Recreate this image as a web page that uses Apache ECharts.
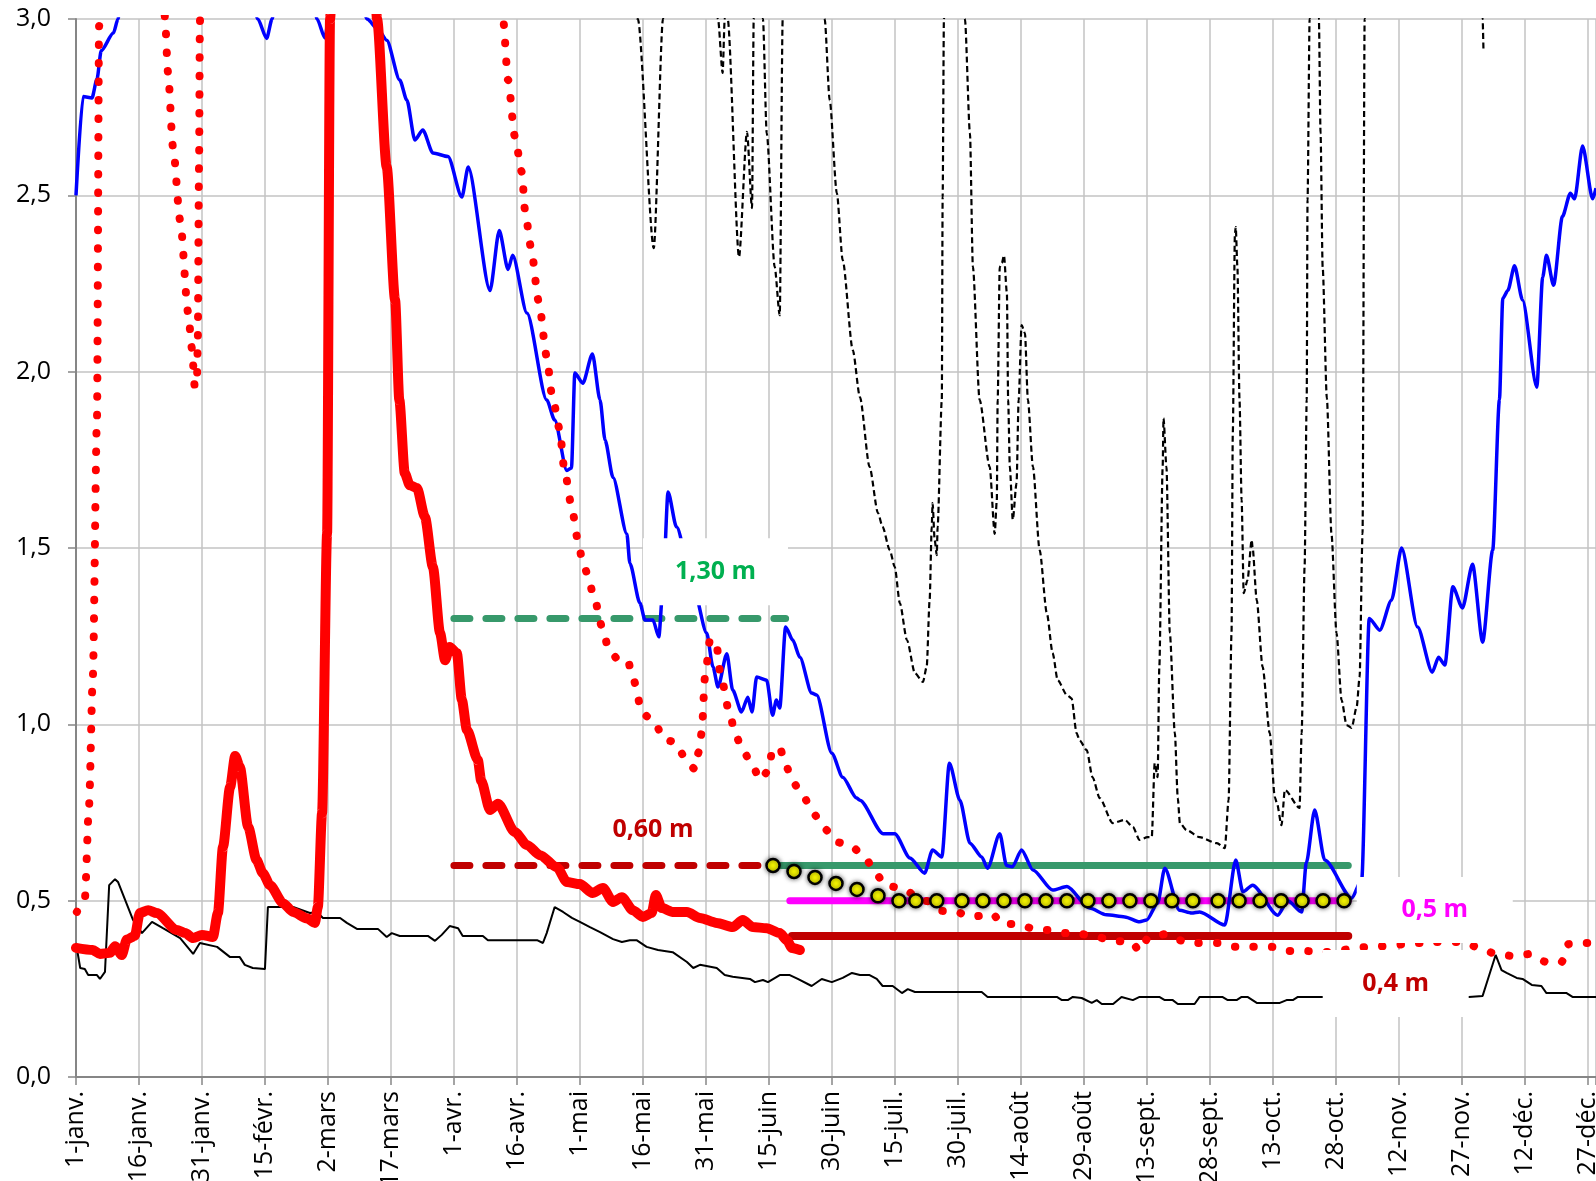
<!DOCTYPE html>
<html>
<head>
<meta charset="utf-8">
<script src="https://cdn.jsdelivr.net/npm/echarts@6/dist/echarts.min.js"></script>
<style>
html,body{margin:0;padding:0;background:#fff;}
#chart{width:1596px;height:1181px;}
</style>
</head>
<body>
<div id="chart"></div>
<script>
// ---- axis tick labels ----
const tickLabels = ['1-janv.','16-janv.','31-janv.','15-févr.','2-mars','17-mars','1-avr.','16-avr.','1-mai','16-mai','31-mai','15-juin','30-juin','15-juil.','30-juil.','14-août','29-août','13-sept.','28-sept.','13-oct.','28-oct.','12-nov.','27-nov.','12-déc.','27-déc.'];
const yTickLabels = ['0,0','0,5','1,0','1,5','2,0','2,5','3,0'];

// ---- series: [day of year (0 = 1 Jan), value in m] ----
const blueLine = [[0,2.50],[1.7,2.78],[3.8,2.776],[5,2.83],[6,2.91],[8.9,2.96],[10,3.0],[12,3.3],[40,3.3],[43.3,3.0],[45.4,2.945],[46.7,3.0],[49,3.3],[55,3.3],[57.4,3.0],[59.3,2.946],[61,3.1],[66,3.2],[69.3,3.0],[72,2.97],[74,2.94],[77.1,2.827],[78.8,2.77],[80.7,2.657],[82.6,2.685],[85,2.62],[88.6,2.61],[91.9,2.495],[93.4,2.58],[98.6,2.23],[100.8,2.40],[102.9,2.29],[104,2.33],[107.4,2.166],[112.1,1.92],[114,1.863],[116.9,1.72],[118,1.727],[118.8,1.996],[120.7,1.967],[123,2.05],[124.8,1.92],[126,1.806],[127.9,1.70],[131.2,1.54],[131.9,1.457],[134.3,1.344],[135.5,1.296],[137.4,1.296],[138.8,1.248],[139.8,1.39],[141,1.659],[143,1.56],[147,1.39],[150.2,1.259],[151.7,1.163],[152.9,1.106],[155,1.20],[156.4,1.097],[158.5,1.035],[160,1.077],[161,1.035],[162.1,1.134],[164.5,1.125],[165.9,1.026],[166.8,1.069],[167.6,1.046],[169,1.276],[170.7,1.239],[172.4,1.19],[175.2,1.089],[176.4,1.083],[180,0.918],[182.6,0.85],[185.9,0.791],[186.7,0.785],[192.2,0.69],[195,0.69],[198.6,0.621],[202.1,0.578],[204,0.644],[206.2,0.624],[208,0.89],[210.5,0.785],[212.9,0.663],[215.7,0.624],[217.1,0.592],[220,0.69],[221.6,0.60],[223,0.596],[225.2,0.644],[227.9,0.587],[232.6,0.53],[236,0.54],[241.4,0.479],[245.4,0.46],[249.8,0.454],[253.3,0.44],[255,0.445],[257.6,0.493],[259.3,0.592],[262.8,0.473],[265.7,0.465],[267.6,0.468],[273.6,0.431],[276.2,0.615],[277.9,0.525],[280.2,0.544],[286.2,0.459],[288.6,0.50],[291.9,0.468],[293,0.607],[295,0.757],[297.4,0.615],[303.8,0.507],[306.2,0.559],[308,1.30],[310.5,1.267],[313.3,1.352],[315.7,1.50],[319.5,1.276],[323,1.148],[324.5,1.19],[326,1.168],[327.9,1.39],[330.2,1.33],[332.6,1.454],[335,1.233],[337.4,1.494],[339,1.92],[339.8,2.208],[341,2.23],[342.6,2.30],[344.5,2.203],[347.9,1.956],[349.3,2.268],[350.2,2.33],[351.9,2.245],[354,2.44],[355.9,2.506],[356.9,2.49],[358.8,2.64],[361.2,2.49],[362,2.52]];

const redThick = [[0,0.366],[4,0.36],[5.7,0.349],[8.1,0.352],[9.3,0.371],[10.9,0.346],[12.1,0.39],[14,0.40],[15.2,0.465],[17.2,0.473],[19.2,0.465],[24,0.417],[26,0.408],[27.9,0.394],[30,0.403],[32.6,0.397],[33.8,0.465],[35,0.652],[36.7,0.822],[37.9,0.91],[39,0.88],[41,0.709],[43,0.615],[44.5,0.578],[46.2,0.544],[49.3,0.493],[51.7,0.468],[55,0.45],[56.9,0.437],[57.6,0.482],[58.6,0.748],[59.8,1.54],[60.5,3.0],[61.5,3.3],[70.5,3.3],[71.7,3.0],[74,2.58],[76,2.203],[77,1.92],[78.3,1.712],[79.5,1.678],[81.2,1.67],[83.1,1.588],[85,1.446],[86.7,1.259],[87.9,1.182],[89,1.219],[90.7,1.202],[91.9,1.069],[93.1,0.984],[95.7,0.899],[96.5,0.84],[98.6,0.757],[100.5,0.775],[104.5,0.695],[107.4,0.658],[110.5,0.629],[114.5,0.595],[116.9,0.553],[120,0.547],[123,0.522],[125.5,0.536],[127.9,0.496],[130,0.51],[132.6,0.473],[135,0.454],[137.1,0.465],[138.1,0.516],[139.5,0.479],[142.1,0.468],[145.5,0.468],[148.6,0.451],[152.6,0.437],[156.4,0.425],[158.8,0.445],[161.2,0.425],[164.5,0.422],[167.6,0.408],[169.3,0.388],[170.5,0.366],[172.4,0.36]];

const redDotted = [[0.2,0.468],[2.1,0.505],[3.1,0.77],[4,1.134],[5,1.87],[5.5,2.98],[5.8,3.3],[20.5,3.3],[21.2,3.0],[21.9,2.85],[23.1,2.637],[24.8,2.43],[26.7,2.169],[27.6,2.067],[28.3,1.956],[28.8,1.976],[29,2.081],[29.3,2.58],[29.5,2.98],[29.8,3.3],[101,3.3],[101.7,3.0],[102.9,2.827],[104.5,2.668],[106.2,2.566],[106.9,2.461],[108.3,2.356],[110.2,2.2],[112.1,2.044],[113.3,1.939],[115.2,1.837],[116.2,1.732],[117.9,1.627],[119.5,1.525],[120.5,1.471],[121.9,1.423],[123.1,1.372],[125.5,1.27],[126.7,1.219],[129,1.185],[131.4,1.182],[132.6,1.131],[135,1.029],[137.9,1.007],[139.8,0.958],[142.6,0.95],[145,0.907],[147.4,0.873],[148.3,0.921],[149,0.975],[149.8,1.134],[151,1.239],[152.4,1.236],[153.6,1.134],[155.7,1.029],[156.9,0.978],[158.6,0.93],[161,0.887],[162.9,0.842],[165.2,0.873],[165.7,0.924],[167.6,0.933],[169,0.885],[170.7,0.836],[173.3,0.794],[175.5,0.749],[178.1,0.706],[181.2,0.666],[184.5,0.655],[187.9,0.624],[190.2,0.581],[192.9,0.542],[196.7,0.536],[199.8,0.516],[202.6,0.499],[206.4,0.471],[209.8,0.468],[212.4,0.456],[214.5,0.456],[218.3,0.462],[220.5,0.434],[224.3,0.434],[227.6,0.422],[231.2,0.417],[235.5,0.408],[239.5,0.405],[243.1,0.397],[247.1,0.386],[251.4,0.383],[253.3,0.357],[255.5,0.397],[259.5,0.405],[263.6,0.386],[267.1,0.38],[271.9,0.38],[276,0.369],[280.2,0.369],[284.8,0.369],[288.8,0.357],[293.3,0.357],[296.9,0.354],[308.1,0.369],[320.7,0.38],[323.1,0.383],[330.2,0.383],[334.3,0.366],[338.1,0.349],[342.4,0.343],[346.4,0.349],[350.2,0.326],[353.8,0.326],[355.5,0.377],[358.8,0.38],[362,0.38]];

const blackSolid = [[0,0.38],[1,0.309],[2.1,0.306],[2.9,0.289],[5,0.289],[5.7,0.278],[6.9,0.298],[7.9,0.544],[9.3,0.561],[10,0.553],[13.6,0.445],[15.7,0.408],[18.1,0.44],[20.7,0.422],[24.8,0.394],[27.9,0.349],[29.5,0.38],[33.6,0.369],[36.7,0.34],[39,0.34],[40.2,0.318],[42.1,0.309],[45,0.306],[45.7,0.482],[51.7,0.482],[55.7,0.465],[57.4,0.468],[58.8,0.451],[62.9,0.451],[64.5,0.437],[66.9,0.42],[71.9,0.42],[74,0.397],[75.2,0.408],[77.1,0.40],[83.8,0.40],[85.5,0.386],[87.1,0.403],[89,0.428],[91,0.422],[92.1,0.40],[96.9,0.40],[98.1,0.388],[109.8,0.388],[111.2,0.38],[112.1,0.408],[114,0.482],[116,0.468],[118.1,0.451],[120,0.44],[122.4,0.425],[124.8,0.411],[127.9,0.391],[130,0.383],[131.9,0.388],[133.5,0.388],[135.9,0.369],[138.6,0.36],[142.1,0.354],[145.5,0.326],[147,0.309],[148.6,0.318],[152.6,0.309],[154.5,0.289],[156.4,0.284],[160.5,0.278],[161.7,0.269],[163.6,0.275],[164.8,0.269],[167.6,0.289],[170,0.289],[171.9,0.278],[175.2,0.258],[177.6,0.278],[180,0.269],[182.6,0.281],[184.8,0.295],[186.7,0.289],[189,0.289],[190.7,0.278],[192.1,0.258],[194.5,0.258],[196.7,0.238],[198.1,0.249],[199.8,0.241],[215.7,0.241],[217.1,0.227],[233.6,0.227],[234.8,0.218],[236.2,0.218],[237.4,0.227],[239.5,0.224],[241.9,0.21],[243.1,0.218],[244.3,0.207],[247,0.207],[249,0.227],[251.7,0.218],[253.3,0.227],[258,0.227],[259.3,0.218],[261.2,0.218],[262.4,0.207],[266.4,0.207],[267.6,0.227],[273,0.227],[274.3,0.218],[276.4,0.218],[277.6,0.227],[279,0.227],[281.2,0.21],[286.7,0.21],[288.3,0.218],[289.8,0.218],[291,0.227],[296.9,0.227],[331.7,0.227],[335,0.23],[336.2,0.275],[338.1,0.346],[339.5,0.303],[340.7,0.295],[343.1,0.281],[344.5,0.278],[346.7,0.261],[349,0.258],[350.2,0.238],[355,0.238],[356.4,0.227],[362,0.227]];

const blackDashed = [[128,3.4],[133.8,3.0],[137.6,2.35],[139.8,3.0],[141,3.4],[151,3.4],[152.9,3.0],[154,2.847],[154.5,3.0],[154.85,3.05],[155.2,3.0],[157.9,2.325],[159.8,2.68],[161,2.464],[161.4,3.0],[162.5,3.3],[163.6,3.0],[164.5,2.676],[166.4,2.297],[167.6,2.16],[168.3,3.0],[169,3.4],[177,3.4],[178.3,3.0],[179.5,2.77],[181.2,2.506],[182.6,2.316],[185,2.061],[186.7,1.928],[189,1.73],[191,1.599],[192.1,1.56],[193.8,1.494],[195,1.446],[196.2,1.344],[197.9,1.239],[199.8,1.145],[201.7,1.12],[202.6,1.163],[203.3,1.352],[203.8,1.56],[204,1.627],[204.5,1.523],[205,1.48],[205.2,1.56],[206.2,1.92],[206.4,2.495],[206.7,3.0],[207.5,3.4],[210.5,3.4],[211.7,3.0],[212.9,2.676],[213.6,2.297],[215.2,1.92],[217.6,1.73],[218.8,1.54],[219.3,1.636],[219.5,1.92],[220,2.297],[220.5,2.308],[221,2.33],[221.7,2.223],[222,1.92],[222.4,1.73],[223.1,1.58],[224,1.684],[224.5,1.92],[225.2,2.132],[226,2.109],[226.7,1.92],[227.9,1.73],[229.5,1.494],[231.2,1.316],[232.6,1.202],[233.8,1.125],[236,1.083],[237.1,1.074],[238.3,0.975],[239,0.955],[240.7,0.927],[242.1,0.85],[243.8,0.791],[246.9,0.72],[249.8,0.729],[251.7,0.709],[253.3,0.672],[255.2,0.68],[256.2,0.68],[256.9,0.89],[257.6,0.85],[258,1.163],[258.8,1.73],[259,1.868],[259.7,1.73],[260.5,1.259],[261.7,0.975],[262.4,0.791],[262.9,0.72],[264.5,0.70],[267.6,0.68],[271.7,0.663],[273.6,0.649],[274.5,0.785],[275.2,1.259],[275.5,1.826],[276,2.39],[276.2,2.41],[276.6,2.297],[277.1,1.92],[277.6,1.636],[278.1,1.372],[279,1.409],[280,1.523],[280.2,1.503],[281.2,1.352],[282.6,1.163],[284.3,0.975],[285.5,0.794],[286,0.777],[287.1,0.714],[287.9,0.814],[291.4,0.763],[291.9,0.975],[292.6,1.446],[293.1,1.92],[293.3,2.487],[293.8,3.0],[294.5,3.4],[295.5,3.4],[296,3.0],[296.4,2.676],[296.9,2.297],[297.9,1.925],[299,1.54],[300.2,1.259],[301.4,1.069],[302.6,0.998],[303.8,0.99],[305,1.049],[305.7,1.134],[306.4,1.54],[306.9,3.0],[308,3.4],[334,3.4],[335,3.0],[335.2,2.91]];

// yellow markers (target curve)
const yellowDays = [166,171,176,181,186,191,196,200,205,211,216,221,226,231,236,241,246,251,256,261,266,272,277,282,287,292,297,302];
const yellowVals = [0.60,0.583,0.566,0.549,0.532,0.514,0.50,0.50,0.50,0.50,0.50,0.50,0.50,0.50,0.50,0.50,0.50,0.50,0.50,0.50,0.50,0.50,0.50,0.50,0.50,0.50,0.50,0.50];

// threshold lines: [startDay, endDay, level]
const thr130Dash = [90, 169, 1.30];
const thr060Dash = [90, 166, 0.60];
const thr060 = [166, 303, 0.60];
const thr050 = [170, 303, 0.50];
const thr040 = [170.5, 303, 0.40];

// annotation texts and anchor points [day, value]
const labelTexts = ['1,30 m', '0,60 m', '0,5 m', '0,4 m'];
const labelAnchors = [[152.3, 1.433], [137.4, 0.70], [323.6, 0.4735], [314.3, 0.265]];

const seg = t => [[t[0], t[2]], [t[1], t[2]]];
const yellowData = yellowDays.map((d, i) => [d, yellowVals[i]]);

const chart = echarts.init(document.getElementById('chart'), null, {renderer: 'canvas'});
const FONT = 'Open Sans';
const lineBase = {type: 'line', symbol: 'none', showSymbol: false, silent: true, animation: false};

chart.setOption({
  animation: false,
  backgroundColor: '#ffffff',
  grid: {left: 76, right: 0, top: 19, bottom: 104, containLabel: false, outerBoundsMode: 'none'},
  xAxis: {
    type: 'value', min: 0, max: 362, interval: 15,
    axisLine: {show: true, onZero: false, lineStyle: {color: '#868686', width: 2}},
    axisTick: {show: true, length: 8, lineStyle: {color: '#868686', width: 1.5}},
    splitLine: {show: true, lineStyle: {color: '#C3C3C3', width: 1.5}},
    axisLabel: {
      rotate: 90, margin: 14, fontSize: 25, color: '#000', fontFamily: FONT,
      formatter: v => (Math.abs(v % 15) < 1e-6 && tickLabels[v / 15] !== undefined) ? tickLabels[v / 15] : ''
    }
  },
  yAxis: {
    type: 'value', min: 0, max: 3, interval: 0.5,
    axisLine: {show: true, lineStyle: {color: '#868686', width: 2}},
    axisTick: {show: true, length: 8, lineStyle: {color: '#868686', width: 1.5}},
    splitLine: {show: true, lineStyle: {color: '#C3C3C3', width: 1.5}},
    axisLabel: {
      margin: 25, fontSize: 25, color: '#000', fontFamily: FONT,
      formatter: v => yTickLabels[Math.round(v / 0.5)]
    }
  },
  series: [
    Object.assign({}, lineBase, {name: 'noir', data: blackSolid, z: 2,
      lineStyle: {color: '#000', width: 2}}),
    Object.assign({}, lineBase, {name: 'noir pointillé', data: blackDashed, z: 2,
      smooth: 0.25, smoothMonotone: 'x',
      lineStyle: {color: '#000', width: 2.2, type: [6, 3.5]}}),
    Object.assign({}, lineBase, {name: 'seuil 1,30', data: seg(thr130Dash), z: 3,
      lineStyle: {color: '#37996B', width: 7, type: [16, 16], cap: 'round'}}),
    Object.assign({}, lineBase, {name: 'seuil 0,60 tirets', data: seg(thr060Dash), z: 3,
      lineStyle: {color: '#C00000', width: 7, type: [16, 16], cap: 'round'}}),
    Object.assign({}, lineBase, {name: 'seuil 0,60', data: seg(thr060), z: 3,
      lineStyle: {color: '#37996B', width: 7, cap: 'round'}}),
    Object.assign({}, lineBase, {name: 'seuil 0,5', data: seg(thr050), z: 3,
      lineStyle: {color: '#FF00FF', width: 7, cap: 'round'}}),
    Object.assign({}, lineBase, {name: 'seuil 0,4', data: seg(thr040), z: 3,
      lineStyle: {color: '#C00000', width: 8, cap: 'round'}}),
    Object.assign({}, lineBase, {name: 'bleu', data: blueLine, z: 4,
      smooth: 0.25, smoothMonotone: 'x',
      lineStyle: {color: '#0000FF', width: 3.5}}),
    Object.assign({}, lineBase, {name: 'rouge pointillé', data: redDotted, z: 5,
      smooth: 0.25, smoothMonotone: 'x',
      lineStyle: {color: '#FF0000', width: 8, type: [0.5, 18], cap: 'round'}}),
    Object.assign({}, lineBase, {name: 'rouge', data: redThick, z: 6,
      smooth: 0.25, smoothMonotone: 'x',
      lineStyle: {color: '#FF0000', width: 10, cap: 'round', join: 'round'}}),
    {type: 'scatter', name: 'objectif', data: yellowData, z: 7, silent: true, animation: false,
      symbol: 'circle', symbolSize: 13,
      itemStyle: {color: '#FFFF00', opacity: 1, borderColor: '#000', borderWidth: 2.5, shadowBlur: 5, shadowColor: 'rgba(0,0,0,0.6)'}},
    {type: 'scatter', name: 'étiquettes', z: 10, silent: true, animation: false, clip: false,
      symbol: 'rect',
      data: [
        {value: labelAnchors[0], symbolSize: [145, 67], label: {formatter: labelTexts[0], color: '#00B050'}},
        {value: labelAnchors[1], symbolSize: [2, 2], itemStyle: {color: 'rgba(255,255,255,0)'}, label: {formatter: labelTexts[1], color: '#C00000'}},
        {value: labelAnchors[2], symbolSize: [156, 66], label: {formatter: labelTexts[2], color: '#FF00FF'}},
        {value: labelAnchors[3], symbolSize: [146, 67], label: {formatter: labelTexts[3], color: '#C00000'}}
      ],
      itemStyle: {color: '#ffffff', opacity: 1},
      label: {show: true, position: 'inside', fontSize: 25, fontWeight: 'bold', fontFamily: 'Open Sans'}
    }
  ]
});
</script>
</body>
</html>
